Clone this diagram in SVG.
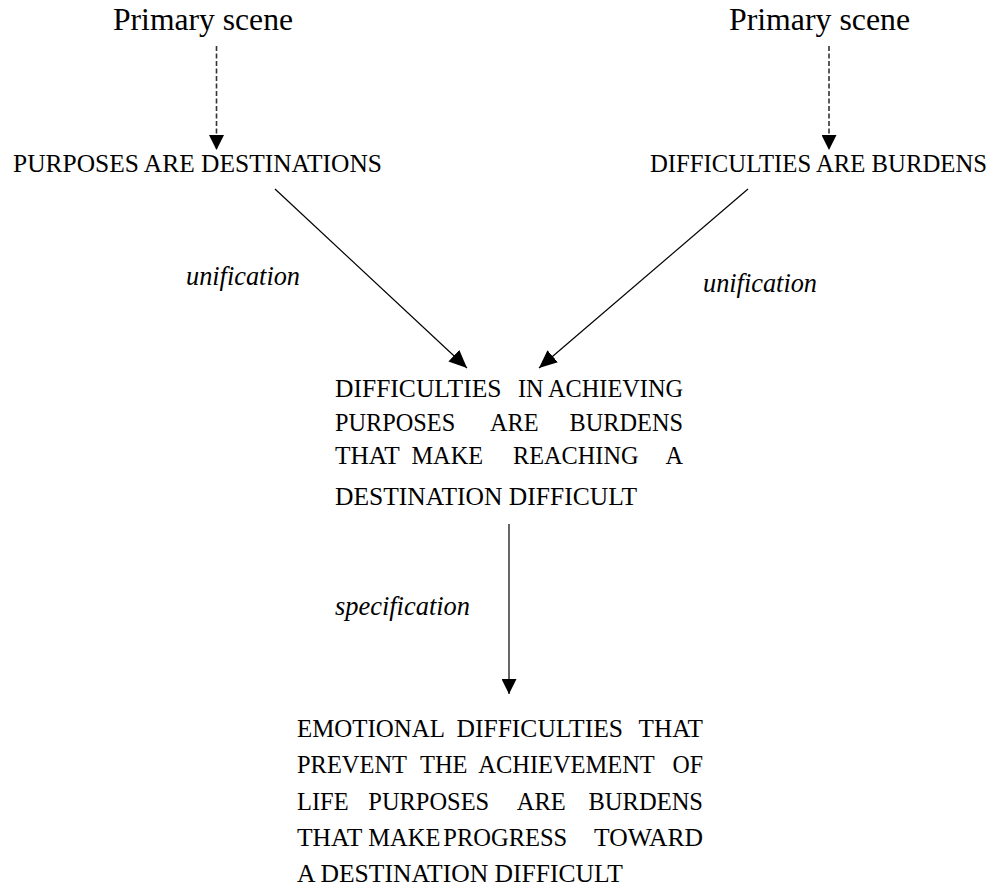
<svg xmlns="http://www.w3.org/2000/svg" width="1003" height="888" viewBox="0 0 1003 888">
  <style>
    text { font-family: "Liberation Serif", "Times New Roman", serif; fill: #000; }
    .scene { font-size: 32px; }
    .node { font-size: 24.5px; }
    .label { font-size: 26.5px; font-style: italic; }
    .solid { stroke: #000; stroke-width: 1.2; fill: none; }
    .dashed { stroke: #333; stroke-width: 1.6; stroke-dasharray: 5 2.5; fill: none; }
  </style>
  <defs>
    <marker id="head" viewBox="0 0 18 16" refX="18" refY="8" markerWidth="18" markerHeight="16" markerUnits="userSpaceOnUse" orient="auto">
      <path d="M0,0 L18,8 L0,16 Z" fill="#000"/>
    </marker>
    <marker id="headSmall" viewBox="0 0 15 15" refX="15" refY="7.5" markerWidth="15" markerHeight="15" markerUnits="userSpaceOnUse" orient="auto">
      <path d="M0,0 L15,7.5 L0,15 Z" fill="#000"/>
    </marker>
  </defs>

  <!-- source scenes -->
  <g id="scene-left">
    <text class="scene" x="113" y="30" textLength="180" lengthAdjust="spacingAndGlyphs">Primary scene</text>
  </g>
  <g id="scene-right">
    <text class="scene" x="729" y="30" textLength="181" lengthAdjust="spacingAndGlyphs">Primary scene</text>
  </g>

  <!-- primary metaphors -->
  <g id="purposes">
    <text class="node" x="13" y="172" textLength="369" lengthAdjust="spacingAndGlyphs">PURPOSES ARE DESTINATIONS</text>
  </g>
  <g id="difficulties">
    <text class="node" x="650" y="172" textLength="337" lengthAdjust="spacingAndGlyphs">DIFFICULTIES ARE BURDENS</text>
  </g>

  <!-- unified metaphor: justified block 335..683, one text per word -->
  <g id="unified">
    <text class="node" x="335" y="397" textLength="166.5" lengthAdjust="spacingAndGlyphs">DIFFICULTIES</text>
    <text class="node" x="518" y="397" textLength="25.6" lengthAdjust="spacingAndGlyphs">IN</text>
    <text class="node" x="548" y="397" textLength="135" lengthAdjust="spacingAndGlyphs">ACHIEVING</text>

    <text class="node" x="335" y="430.5" textLength="120.2" lengthAdjust="spacingAndGlyphs">PURPOSES</text>
    <text class="node" x="490" y="430.5" textLength="48.6" lengthAdjust="spacingAndGlyphs">ARE</text>
    <text class="node" x="569.6" y="430.5" textLength="113.4" lengthAdjust="spacingAndGlyphs">BURDENS</text>

    <text class="node" x="335" y="464" textLength="64.8" lengthAdjust="spacingAndGlyphs">THAT</text>
    <text class="node" x="411.5" y="464" textLength="71.5" lengthAdjust="spacingAndGlyphs">MAKE</text>
    <text class="node" x="513" y="464" textLength="125.5" lengthAdjust="spacingAndGlyphs">REACHING</text>
    <text class="node" x="665.5" y="464" textLength="17.5" lengthAdjust="spacingAndGlyphs">A</text>

    <text class="node" x="335" y="505" textLength="302" lengthAdjust="spacingAndGlyphs">DESTINATION DIFFICULT</text>
  </g>

  <!-- specified metaphor: justified block 297..703, one text per word -->
  <g id="specified">
    <text class="node" x="297" y="737" textLength="148" lengthAdjust="spacingAndGlyphs">EMOTIONAL</text>
    <text class="node" x="456.5" y="737" textLength="166.5" lengthAdjust="spacingAndGlyphs">DIFFICULTIES</text>
    <text class="node" x="638.5" y="737" textLength="64.5" lengthAdjust="spacingAndGlyphs">THAT</text>

    <text class="node" x="297" y="773.3" textLength="110" lengthAdjust="spacingAndGlyphs">PREVENT</text>
    <text class="node" x="420" y="773.3" textLength="47.5" lengthAdjust="spacingAndGlyphs">THE</text>
    <text class="node" x="478.3" y="773.3" textLength="176.5" lengthAdjust="spacingAndGlyphs">ACHIEVEMENT</text>
    <text class="node" x="672.5" y="773.3" textLength="30.5" lengthAdjust="spacingAndGlyphs">OF</text>

    <text class="node" x="297" y="809.6" textLength="51.6" lengthAdjust="spacingAndGlyphs">LIFE</text>
    <text class="node" x="368.3" y="809.6" textLength="120.9" lengthAdjust="spacingAndGlyphs">PURPOSES</text>
    <text class="node" x="516.7" y="809.6" textLength="49" lengthAdjust="spacingAndGlyphs">ARE</text>
    <text class="node" x="588.5" y="809.6" textLength="114.5" lengthAdjust="spacingAndGlyphs">BURDENS</text>

    <text class="node" x="297" y="846" textLength="65.3" lengthAdjust="spacingAndGlyphs">THAT</text>
    <text class="node" x="368.3" y="846" textLength="72.1" lengthAdjust="spacingAndGlyphs">MAKE</text>
    <text class="node" x="443.3" y="846" textLength="123.9" lengthAdjust="spacingAndGlyphs">PROGRESS</text>
    <text class="node" x="594" y="846" textLength="109" lengthAdjust="spacingAndGlyphs">TOWARD</text>

    <text class="node" x="297" y="882" textLength="326" lengthAdjust="spacingAndGlyphs">A DESTINATION DIFFICULT</text>
  </g>

  <!-- connectors and their labels -->
  <g id="connectors">
    <line class="dashed" x1="216.5" y1="46" x2="216.5" y2="150" marker-end="url(#headSmall)"/>
    <line class="dashed" x1="829" y1="46" x2="829" y2="150" marker-end="url(#headSmall)"/>
    <line class="solid" x1="275" y1="189" x2="467" y2="368" marker-end="url(#head)"/>
    <line class="solid" x1="748" y1="189" x2="539" y2="368" marker-end="url(#head)"/>
    <line class="solid" x1="509" y1="524" x2="509" y2="694" stroke="#333" stroke-width="1.5" marker-end="url(#headSmall)"/>
    <text class="label" x="186" y="285" textLength="114" lengthAdjust="spacingAndGlyphs">unification</text>
    <text class="label" x="703" y="292" textLength="114" lengthAdjust="spacingAndGlyphs">unification</text>
    <text class="label" x="335" y="615" textLength="135" lengthAdjust="spacingAndGlyphs">specification</text>
  </g>
</svg>
